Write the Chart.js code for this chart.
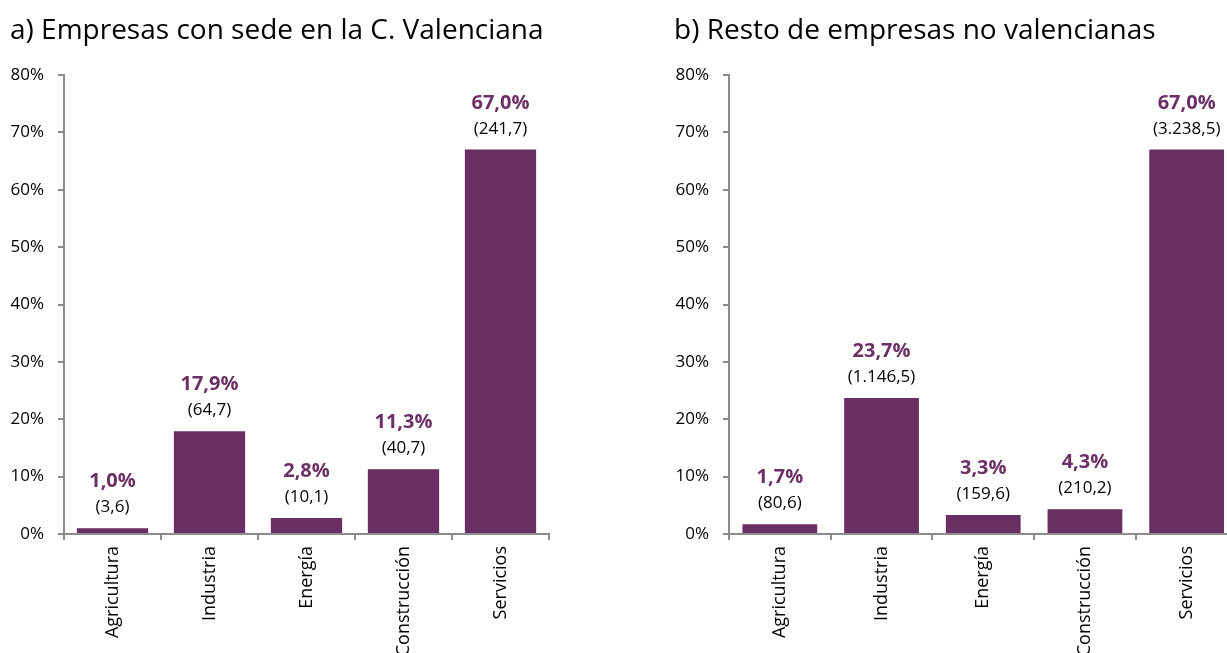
<!DOCTYPE html>
<html>
<head>
<meta charset="utf-8">
<script src="https://cdn.jsdelivr.net/npm/chart.js@4.4.1/dist/chart.umd.min.js"></script>
<style>
  html, body { margin: 0; padding: 0; background: #fff; overflow: hidden; width: 1227px; height: 653px; }
  #c1 { position: absolute; left: 0; top: 0; }
  #c2 { position: absolute; left: 664px; top: 0; }
</style>
</head>
<body>
<canvas id="c1" width="600" height="653"></canvas>
<canvas id="c2" width="596" height="653"></canvas>
<script>
// ---- Data ----
const categories = ['Agricultura', 'Industria', 'Energía', 'Construcción', 'Servicios'];
const titleA = 'a) Empresas con sede en la C. Valenciana';
const titleB = 'b) Resto de empresas no valencianas';
const valencianaPct = [1.0, 17.9, 2.8, 11.3, 67.0];
const valencianaAbs = [3.6, 64.7, 10.1, 40.7, 241.7];
const restoPct = [1.7, 23.7, 3.3, 4.3, 67.0];
const restoAbs = [80.6, 1146.5, 159.6, 210.2, 3238.5];
const yTicks = [0, 10, 20, 30, 40, 50, 60, 70, 80];

// ---- Styles ----
const FONT = '"Open Sans", "Noto Sans", sans-serif';
const BAR = '#6a2f62';
const LABEL_PURPLE = '#6d3066';
const AXIS = '#8c8c8c';

function fmtES(v, dec) {
  const parts = v.toFixed(dec).split('.');
  parts[0] = parts[0].replace(/\B(?=(\d{3})+(?!\d))/g, '.');
  return parts.join(',');
}

const labelPlugin = {
  id: 'barLabels',
  afterDatasetsDraw(chart, args, opts) {
    const ctx = chart.ctx;
    const meta = chart.getDatasetMeta(0);
    const ds = chart.data.datasets[0];
    ctx.save();
    ctx.textAlign = 'center';
    ctx.textBaseline = 'alphabetic';
    meta.data.forEach((bar, i) => {
      const x = bar.x, top = bar.y;
      ctx.font = 'bold 20px ' + FONT;
      ctx.fillStyle = LABEL_PURPLE;
      ctx.fillText(fmtES(ds.data[i], 1) + '%', x, top - 41);
      ctx.font = '17px ' + FONT;
      ctx.fillStyle = '#000';
      ctx.fillText('(' + fmtES(opts.abs[i], 1) + ')', x, top - 16);
    });
    ctx.restore();
  }
};

function makeChart(id, title, pct, abs, yWidth, padRight) {
  return new Chart(document.getElementById(id), {
    type: 'bar',
    data: {
      labels: categories,
      datasets: [{ data: pct, backgroundColor: BAR, borderWidth: 0,
        categoryPercentage: 1.0, barPercentage: 0.735 }]
    },
    plugins: [labelPlugin],
    options: {
      responsive: false,
      animation: false,
      events: [],
      layout: { padding: { left: 10, right: padRight, top: 0, bottom: 0 } },
      plugins: {
        legend: { display: false },
        tooltip: { enabled: false },
        title: {
          display: true, text: title, align: 'start', color: '#000',
          font: { family: FONT, size: 28, weight: 'normal', lineHeight: 1.2 },
          padding: { top: 14, bottom: 27.4 }
        },
        barLabels: { abs: abs }
      },
      scales: {
        x: {
          type: 'category',
          grid: { display: true, drawOnChartArea: false, drawTicks: true, tickLength: 6, offset: true, color: AXIS, lineWidth: 2 },
          border: { display: true, color: AXIS, width: 2 },
          ticks: { color: '#000', font: { family: FONT, size: 18 }, minRotation: 90, maxRotation: 90, padding: 6, autoSkip: false },
          afterFit(scale) { scale.height = 119; }
        },
        y: {
          min: 0, max: 80,
          afterBuildTicks(scale) { scale.ticks = yTicks.map(v => ({ value: v })); },
          grid: { display: true, drawOnChartArea: false, drawTicks: true, tickLength: 6, color: AXIS, lineWidth: 2 },
          border: { display: true, color: AXIS, width: 2 },
          ticks: { color: '#000', font: { family: FONT, size: 17 }, padding: 14, callback: v => v + '%' },
          afterFit(scale) { scale.width = yWidth; }
        }
      }
    }
  });
}

document.fonts.load('17px "Open Sans"').then(() => document.fonts.load('bold 20px "Open Sans"')).finally(() => {
  makeChart('c1', titleA, valencianaPct, valencianaAbs, 54, 51);
  makeChart('c2', titleB, restoPct, restoAbs, 55, 22.5);
});
</script>
</body>
</html>
